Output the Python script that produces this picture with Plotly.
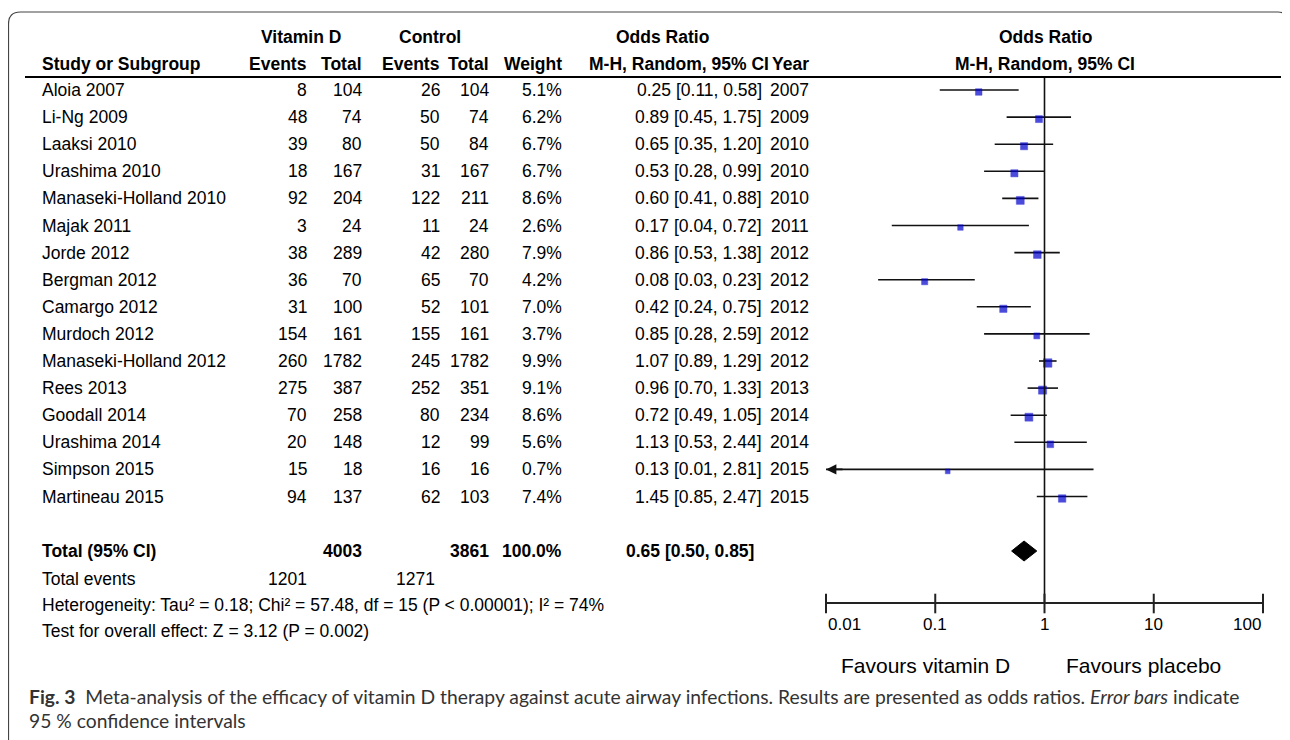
import plotly.graph_objects as go
import math

# ---------------- data ----------------
studies = ["Aloia 2007", "Li-Ng 2009", "Laaksi 2010", "Urashima 2010",
           "Manaseki-Holland 2010", "Majak 2011", "Jorde 2012", "Bergman 2012",
           "Camargo 2012", "Murdoch 2012", "Manaseki-Holland 2012", "Rees 2013",
           "Goodall 2014", "Urashima 2014", "Simpson 2015", "Martineau 2015"]
vit_events = [8, 48, 39, 18, 92, 3, 38, 36, 31, 154, 260, 275, 70, 20, 15, 94]
vit_total = [104, 74, 80, 167, 204, 24, 289, 70, 100, 161, 1782, 387, 258, 148, 18, 137]
ctl_events = [26, 50, 50, 31, 122, 11, 42, 65, 52, 155, 245, 252, 80, 12, 16, 62]
ctl_total = [104, 74, 84, 167, 211, 24, 280, 70, 101, 161, 1782, 351, 234, 99, 16, 103]
weights = [5.1, 6.2, 6.7, 6.7, 8.6, 2.6, 7.9, 4.2, 7.0, 3.7, 9.9, 9.1, 8.6, 5.6, 0.7, 7.4]
odds = [0.25, 0.89, 0.65, 0.53, 0.60, 0.17, 0.86, 0.08, 0.42, 0.85, 1.07, 0.96, 0.72, 1.13, 0.13, 1.45]
ci_low = [0.11, 0.45, 0.35, 0.28, 0.41, 0.04, 0.53, 0.03, 0.24, 0.28, 0.89, 0.70, 0.49, 0.53, 0.01, 0.85]
ci_high = [0.58, 1.75, 1.20, 0.99, 0.88, 0.72, 1.38, 0.23, 0.75, 2.59, 1.29, 1.33, 1.05, 2.44, 2.81, 2.47]
years = [2007, 2009, 2010, 2010, 2010, 2011, 2012, 2012, 2012, 2012, 2012, 2013, 2014, 2014, 2015, 2015]

total_vit = 4003
total_ctl = 3861
total_weight = "100.0%"
total_or = 0.65
total_low = 0.50
total_high = 0.85
events_vit = 1201
events_ctl = 1271
heterogeneity = "Heterogeneity: Tau² = 0.18; Chi² = 57.48, df = 15 (P < 0.00001); I² = 74%"
overall = "Test for overall effect: Z = 3.12 (P = 0.002)"

axis_ticks = [0.01, 0.1, 1, 10, 100]
axis_labels = ["0.01", "0.1", "1", "10", "100"]
favours_left = "Favours vitamin D"
favours_right = "Favours placebo"

# ---------------- layout constants (screen pixels) ----------------
W, H = 1290, 740
PAGE_OFF = 8          # default body margin of the html page
ROW0, ROWSTEP = 90, 27.1
row_y = [ROW0 + ROWSTEP * i for i in range(len(studies))]
Y_TOTAL = 551
Y_EVENTS = 579
Y_HET = 605
Y_TEST = 631
Y_AXIS = 603
Y_HDR1, Y_HDR2, Y_LINE = 37, 64, 77

X_NAME = 40
X_E1, X_T1, X_E2, X_T2, X_W, X_OR, X_YR = 309, 364, 442, 491, 564, 764, 811

TABLE_FONT = "Liberation Sans, Arial, sans-serif"
FS = 17.5
BLUE = "#0000CC"

fig = go.Figure()

# dummy trace for the pixel axis
fig.add_trace(go.Scatter(x=[100], y=[100], mode="markers", marker=dict(opacity=0),
                         xaxis="x", yaxis="y", hoverinfo="skip", showlegend=False))

# CI lines
for i in range(len(studies)):
    fig.add_trace(go.Scatter(x=[ci_low[i], ci_high[i]], y=[row_y[i], row_y[i]],
                             mode="lines", line=dict(color="#111", width=1.6),
                             xaxis="x2", yaxis="y", showlegend=False, hoverinfo="skip",
                             cliponaxis=False))
# point estimates
fig.add_trace(go.Scatter(x=odds, y=[y + 2 for y in row_y], mode="markers",
                         marker=dict(symbol="square", color=BLUE,
                                     size=[4.5 + 0.4 * w for w in weights],
                                     line=dict(width=0.5, color=BLUE)),
                         xaxis="x2", yaxis="y", showlegend=False, hoverinfo="skip",
                         cliponaxis=False))
# diamond
dh = 10
fig.add_trace(go.Scatter(x=[total_low, total_or, total_high, total_or, total_low],
                         y=[Y_TOTAL, Y_TOTAL - dh, Y_TOTAL, Y_TOTAL + dh, Y_TOTAL],
                         mode="lines", fill="toself", fillcolor="#000",
                         line=dict(color="#000", width=1),
                         xaxis="x2", yaxis="y", showlegend=False, hoverinfo="skip"))
# null line
fig.add_trace(go.Scatter(x=[1, 1], y=[Y_LINE, Y_AXIS], mode="lines",
                         line=dict(color="#111", width=1.6),
                         xaxis="x2", yaxis="y", showlegend=False, hoverinfo="skip"))
# axis line and ticks
fig.add_trace(go.Scatter(x=[axis_ticks[0], axis_ticks[-1]], y=[Y_AXIS, Y_AXIS], mode="lines",
                         line=dict(color="#222", width=2),
                         xaxis="x2", yaxis="y", showlegend=False, hoverinfo="skip",
                         cliponaxis=False))
fig.add_trace(go.Scatter(x=axis_ticks, y=[Y_AXIS + 0.5] * len(axis_ticks), mode="markers",
                         marker=dict(symbol="line-ns-open", size=14, color="#222",
                                     line=dict(color="#222", width=2)),
                         xaxis="x2", yaxis="y", showlegend=False, hoverinfo="skip",
                         cliponaxis=False))

ann = []


def txt(x, y, s, anchor="left", bold=False, size=FS, family=TABLE_FONT, color="#000", xref="x"):
    if bold:
        s = "<b>" + s + "</b>"
    ann.append(dict(x=x, y=y, xref=xref, yref="y", text=s, showarrow=False,
                    xanchor=anchor, yanchor="middle",
                    font=dict(family=family, size=size, color=color)))


# headers
txt(301, Y_HDR1, "Vitamin D", "center", True)
txt(430, Y_HDR1, "Control", "center", True)
txt(662, Y_HDR1, "Odds Ratio", "center", True)
txt(1045, Y_HDR1, "Odds Ratio", "center", True)
txt(X_NAME, Y_HDR2, "Study or Subgroup", "left", True)
txt(X_E1, Y_HDR2, "Events", "right", True)
txt(X_T1, Y_HDR2, "Total", "right", True)
txt(X_E2, Y_HDR2, "Events", "right", True)
txt(X_T2, Y_HDR2, "Total", "right", True)
txt(X_W, Y_HDR2, "Weight", "right", True)
txt(771, Y_HDR2, "M-H, Random, 95% CI", "right", True)
txt(X_YR, Y_HDR2, "Year", "right", True)
txt(1045, Y_HDR2, "M-H, Random, 95% CI", "center", True)

# study rows
for i, s in enumerate(studies):
    y = row_y[i]
    txt(X_NAME, y, s)
    txt(X_E1, y, str(vit_events[i]), "right")
    txt(X_T1, y, str(vit_total[i]), "right")
    txt(X_E2, y, str(ctl_events[i]), "right")
    txt(X_T2, y, str(ctl_total[i]), "right")
    txt(X_W, y, f"{weights[i]:.1f}%", "right")
    txt(X_OR, y, f"{odds[i]:.2f} [{ci_low[i]:.2f}, {ci_high[i]:.2f}]", "right")
    txt(X_YR, y, str(years[i]), "right")

# totals
txt(X_NAME, Y_TOTAL, "Total (95% CI)", "left", True)
txt(X_T1, Y_TOTAL, str(total_vit), "right", True)
txt(X_T2, Y_TOTAL, str(total_ctl), "right", True)
txt(X_W, Y_TOTAL, total_weight, "right", True)
txt(756, Y_TOTAL, f"{total_or:.2f} [{total_low:.2f}, {total_high:.2f}]", "right", True)
txt(X_NAME, Y_EVENTS, "Total events")
txt(X_E1, Y_EVENTS, str(events_vit), "right")
txt(X_E2 - 5, Y_EVENTS, str(events_ctl), "right")
txt(X_NAME, Y_HET, heterogeneity)
txt(X_NAME, Y_TEST, overall)

# axis labels
for v, lab in zip(axis_ticks, axis_labels):
    anc = "left" if v == axis_ticks[0] else ("right" if v == axis_ticks[-1] else "center")
    ann.append(dict(x=math.log10(v), y=624, xref="x2", yref="y", text=lab, showarrow=False,
                    xanchor=anc, yanchor="middle",
                    font=dict(family=TABLE_FONT, size=17, color="#000")))
txt(925, 665, favours_left, "center", size=21)
txt(1143, 665, favours_right, "center", size=21)

# Simpson arrow (CI truncated at axis limit)
ann.append(dict(x=math.log10(ci_low[14]), y=row_y[14], xref="x2", yref="y",
                ax=18, ay=0, axref="pixel", ayref="pixel", text="", showarrow=True,
                arrowhead=2, arrowsize=1.3, arrowwidth=1.6, arrowcolor="#111"))

# caption
CAP_FONT = "Lato, Open Sans, sans-serif"
txt(27, 696, "<b>Fig. 3</b>&nbsp;&nbsp;Meta-analysis of the efficacy of vitamin D therapy against acute airway "
    "infections. Results are presented as odds ratios. <i>Error bars</i> indicate",
    "left", size=19.3, family=CAP_FONT, color="#333")
txt(27, 720, "95 % confidence intervals", "left", size=19.3, family=CAP_FONT, color="#333")

shapes = [
    # header rule
    dict(type="line", xref="x", yref="y", x0=25, x1=1281, y0=Y_LINE, y1=Y_LINE,
         line=dict(color="#000", width=2)),
    # rounded frame
    dict(type="path", xref="x", yref="y",
         path="M 8.5 760 L 8.5 24 Q 8.5 12 20.5 12 L 1278 12 Q 1287 12 1287 22 L 1287 760",
         line=dict(color="#444", width=1.2)),
]

FW, FH = W - PAGE_OFF, H - PAGE_OFF
fig.update_layout(
    width=FW, height=FH, margin=dict(l=0, r=0, t=0, b=0),
    paper_bgcolor="white", plot_bgcolor="rgba(0,0,0,0)",
    xaxis=dict(range=[PAGE_OFF, W], domain=[0, 1], visible=False, fixedrange=True),
    xaxis2=dict(type="log", range=[-2, 2],
                domain=[(826 - PAGE_OFF) / FW, (1263 - PAGE_OFF) / FW], anchor="y",
                visible=False, fixedrange=True),
    yaxis=dict(range=[H, PAGE_OFF], domain=[0, 1], visible=False, fixedrange=True),
    annotations=ann, shapes=shapes, showlegend=False,
)

fig.write_html("out.html")
